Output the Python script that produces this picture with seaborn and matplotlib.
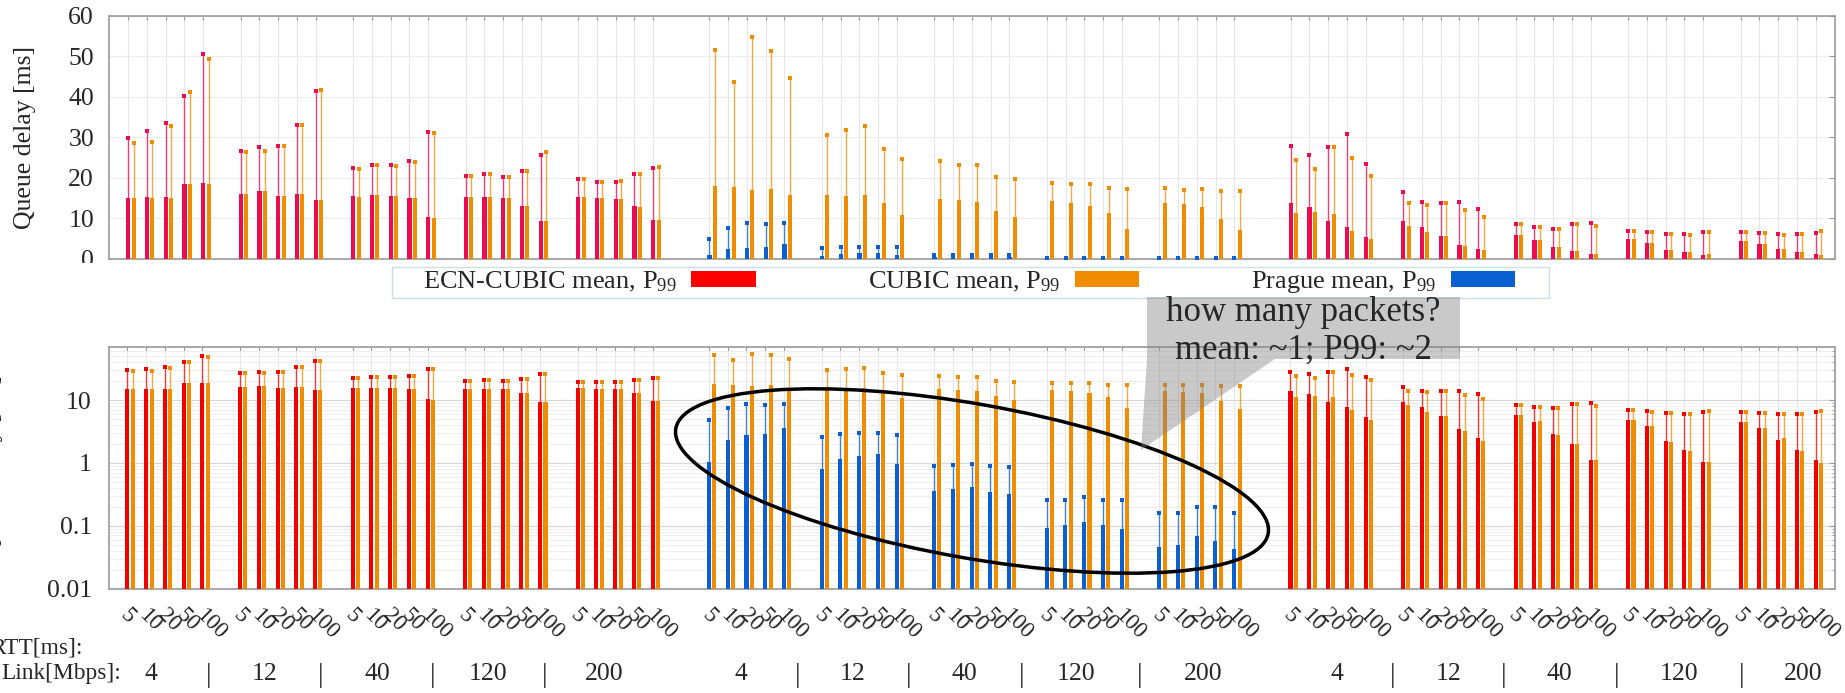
import numpy as np
import matplotlib
matplotlib.use("Agg")
import matplotlib.pyplot as plt
import seaborn as sns
from matplotlib.patches import Ellipse, Rectangle, Polygon, Patch
from matplotlib.transforms import ScaledTranslation, blended_transform_factory
from matplotlib.ticker import FixedLocator, FixedFormatter, LogLocator, NullFormatter

# ---------------- data ----------------
LINKS = ["4", "12", "40", "120", "200"]
RTTS = ["5", "10", "20", "50", "100"]

# left block: ECN-CUBIC vs CUBIC (link-major, 5 RTTs per link)
A_ecn_mean = [15.1, 15.25, 15.25, 18.4, 18.6,
              16.1, 16.7, 15.5, 16.1, 14.6,
              15.4, 15.75, 15.5, 14.9, 10.3,
              15.25, 15.25, 14.9, 13.1, 9.4,
              15.3, 15.0, 14.75, 13.1, 9.5]
A_ecn_p99 = [29.9, 31.6, 33.55, 40.1, 50.7,
             26.6, 27.5, 27.8, 33.1, 41.5,
             22.3, 23.25, 23.1, 24.2, 31.2,
             20.4, 21.0, 20.1, 21.8, 25.6,
             19.7, 19.05, 19.05, 21.0, 22.4]
A_cubic_mean = [15.1, 15.1, 15.1, 18.5, 18.55,
                16.1, 16.7, 15.5, 16.1, 14.6,
                15.3, 15.7, 15.5, 14.9, 10.0,
                15.25, 15.25, 14.9, 13.0, 9.4,
                15.3, 15.0, 14.75, 12.9, 9.5]
A_cubic_p99 = [28.6, 28.9, 32.8, 41.1, 49.4,
               26.5, 26.7, 27.8, 33.1, 41.7,
               22.2, 23.25, 22.9, 24.0, 31.0,
               20.4, 21.0, 20.1, 21.8, 26.3,
               19.7, 19.05, 19.2, 20.9, 22.6]

# middle block: Prague vs CUBIC
B_prague_mean = [1.02, 2.3, 2.76, 2.86, 3.56,
                 0.79, 1.16, 1.29, 1.36, 0.96,
                 0.36, 0.39, 0.41, 0.35, 0.32,
                 0.091, 0.103, 0.115, 0.103, 0.087,
                 0.046, 0.050, 0.068, 0.057, 0.043]
B_prague_p99 = [4.84, 7.5, 8.8, 8.5, 8.8,
                2.62, 2.9, 3.0, 3.0, 2.8,
                0.885, 0.918, 0.95, 0.885, 0.85,
                0.258, 0.258, 0.29, 0.258, 0.258,
                0.162, 0.162, 0.195, 0.195, 0.162]
B_cubic_mean = [18.0, 17.7, 16.9, 17.2, 15.7,
                15.7, 15.4, 15.7, 13.7, 10.7,
                14.75, 14.6, 14.0, 11.8, 10.2,
                14.3, 13.85, 13.1, 11.2, 7.4,
                13.7, 13.5, 12.8, 9.8, 7.1]
B_cubic_p99 = [51.7, 43.8, 54.7, 51.4, 44.6,
               30.5, 31.7, 32.9, 27.0, 24.65,
               24.2, 23.25, 23.25, 20.1, 19.7,
               18.8, 18.4, 18.4, 17.5, 17.3,
               17.5, 17.1, 17.3, 16.65, 16.65]

# right block: ECN-CUBIC vs CUBIC
C_ecn_mean = [13.8, 12.7, 9.3, 7.75, 5.3,
              9.2, 7.75, 5.6, 3.5, 2.5,
              5.8, 4.5, 2.9, 2.0, 1.12,
              4.75, 3.85, 2.2, 1.6, 1.03,
              4.45, 3.6, 2.35, 1.62, 1.12]
C_ecn_p99 = [27.8, 25.6, 27.7, 30.9, 23.4,
             16.4, 14.0, 13.8, 13.9, 12.4,
             8.5, 7.75, 7.4, 8.6, 8.9,
             6.85, 6.7, 6.2, 6.0, 6.5,
             6.5, 6.25, 6.0, 6.0, 6.4]
C_cubic_mean = [11.4, 11.5, 11.05, 6.85, 4.9,
                8.2, 6.5, 5.5, 3.2, 2.2,
                5.85, 4.6, 2.8, 2.0, 1.12,
                4.8, 3.8, 2.15, 1.57, 1.05,
                4.45, 3.6, 2.45, 1.55, 0.98]
C_cubic_p99 = [24.5, 22.2, 27.7, 25.0, 20.5,
               13.7, 13.35, 13.7, 12.0, 10.3,
               8.5, 7.75, 7.4, 8.6, 8.0,
               6.85, 6.5, 6.2, 5.9, 6.6,
               6.5, 6.25, 5.95, 6.0, 6.75]

SERIES = [
    (0, 0, A_ecn_mean, A_ecn_p99, "ecn"),
    (0, 1, A_cubic_mean, A_cubic_p99, "cubic"),
    (1, 0, B_prague_mean, B_prague_p99, "prague"),
    (1, 1, B_cubic_mean, B_cubic_p99, "cubic"),
    (2, 0, C_ecn_mean, C_ecn_p99, "ecn"),
    (2, 1, C_cubic_mean, C_cubic_p99, "cubic"),
]

LEGEND_LABELS = ["ECN-CUBIC mean, P$_{99}$", "CUBIC mean, P$_{99}$", "Prague mean, P$_{99}$"]

# ---------------- layout / style ----------------
W, H, DPI = 1845, 693, 100
GROUP_START = [0, 31, 62]
PAIR_OFF = 0.285
BAR_W = 0.215
TOP_COLORS = {"ecn": "#ee0a4e", "cubic": "#f08c00", "prague": "#0a5fd2"}
BOT_COLORS = {"ecn": "#f20000", "cubic": "#f08c00", "prague": "#0a5fd2"}
LEG_COLORS = ["#ff0000", "#f08c00", "#0a5fd2"]
FRAME = "#9a9a9a"
FS = 18.5
TICK_FS = 16.5

# link-label x positions (slot units) for each block: numbers and separators
LINK_NUM_X = [[1.26, 7.29, 13.30, 19.24, 25.42],
              [32.68, 38.65, 44.61, 50.59, 57.32],
              [64.45, 70.44, 76.36, 82.72, 89.32]]
LINK_SEP_X = [[4.34, 10.28, 16.29, 22.26],
              [35.71, 41.63, 47.66, 53.96],
              [67.43, 73.39, 79.38, 86.05]]

sns.set_theme(style="white")
plt.rcParams["font.family"] = ["Liberation Serif", "DejaVu Serif"]
plt.rcParams["mathtext.fontset"] = "custom"
plt.rcParams["mathtext.rm"] = "Liberation Serif"
plt.rcParams["mathtext.it"] = "Liberation Serif:italic"
plt.rcParams["mathtext.bf"] = "Liberation Serif:bold"

fig = plt.figure(figsize=(W / DPI, H / DPI), dpi=DPI)
fig.patch.set_facecolor("white")


def rect(left, top, right, bottom):
    return [left / W, 1 - bottom / H, (right - left) / W, (bottom - top) / H]


def inch(x, y):
    return (x / DPI, (H - y) / DPI)


ax1 = fig.add_axes(rect(109.3, 16, 1834.5, 258.7))
ax2 = fig.add_axes(rect(108.5, 347, 1834.5, 588.5))


def slots(g):
    return np.array([GROUP_START[g] + 6 * l + r for l in range(5) for r in range(5)], float)


all_slots = np.concatenate([slots(g) for g in range(3)])

for ax, colors in [(ax1, TOP_COLORS), (ax2, BOT_COLORS)]:
    if ax is ax2:
        ax.set_yscale("log")
    for g, side, mean, p99, key in SERIES:
        pos = slots(g) + side * PAIR_OFF
        col = colors[key]
        sns.barplot(x=pos, y=np.array(mean), native_scale=True, orient="x",
                    width=BAR_W, color=col, saturation=1, linewidth=0,
                    errorbar=None, ax=ax, zorder=3)
        ax.vlines(pos, mean, p99, color=col, lw=1.0, alpha=0.75, zorder=3)
        ax.plot(pos, p99, "s", ms=3.1, color=col, mew=0, zorder=4)

    ax.set_xlim(-1.01, 91.0)
    ax.set_xticks(all_slots)
    ax.set_axisbelow(True)
    ax.grid(axis="x", which="major", color="#e6e6e6", lw=0.8)
    for s in ax.spines.values():
        s.set_color(FRAME)
        s.set_linewidth(1.2)
    ax.tick_params(axis="both", which="both", direction="in", color=FRAME,
                   top=True, right=True, labelsize=FS)
    ax.tick_params(axis="x", length=3, width=0.8)

# top panel
ax1.set_ylim(0, 60)
ax1.set_yticks(np.arange(0, 61, 10))
ax1.set_xticklabels([])
ax1.grid(axis="y", color="#ececec", lw=0.8)
ax1.tick_params(axis="y", length=4, width=0.8, pad=11)
ax1.set_xlabel("")
ax1.set_ylabel("")

# bottom panel (log)
ax2.set_ylim(0.01, 70)
ax2.yaxis.set_major_locator(FixedLocator([0.01, 0.1, 1, 10]))
ax2.yaxis.set_major_formatter(FixedFormatter(["0.01", "0.1", "1", "10"]))
ax2.yaxis.set_minor_locator(LogLocator(base=10, subs=np.arange(2, 10), numticks=20))
ax2.yaxis.set_minor_formatter(NullFormatter())
ax2.grid(axis="y", which="major", color="#d8d8d8", lw=0.9)
ax2.grid(axis="y", which="minor", color="#eeeeee", lw=0.7)
ax2.tick_params(axis="y", which="major", length=4, width=0.8, pad=12)
ax2.tick_params(axis="y", which="minor", length=2, width=0.6)
ax2.set_xlabel("")
ax2.set_ylabel("")
ax2.set_xticklabels(RTTS * 15, rotation=-45, rotation_mode="anchor",
                    ha="left", va="center", fontsize=TICK_FS)
ax2.tick_params(axis="x", pad=17.1)
shift = ScaledTranslation(-4.0 / DPI, 0, fig.dpi_scale_trans)
for lab in ax2.get_xticklabels():
    lab.set_transform(lab.get_transform() + shift)

# y labels (the lower one is mostly outside the canvas, as in the reference)
fig.text(24.7 / W, 1 - 137.3 / H, "Queue delay [ms]", rotation=90,
         ha="center", va="center", fontsize=FS)
fig.text(-8 / W, 1 - 467 / H, "Queue delay [ms]", rotation=90,
         ha="center", va="center", fontsize=FS)

# clip of top "0" label (as in reference)
fig.add_artist(Rectangle(inch(0, 300), 105 / DPI, 37 / DPI, transform=fig.dpi_scale_trans,
                         facecolor="white", edgecolor="none", zorder=10))

# x-axis descriptions
fig.text(83 / W, 1 - 648 / H, "RTT[ms]:", ha="right", va="center", fontsize=16.8)
fig.text(1 / W, 1 - 673.5 / H, "Link[Mbps]:", ha="left", va="center", fontsize=16.8)
btrans = blended_transform_factory(ax2.transData, fig.transFigure)
for g in range(3):
    for x, lab in zip(LINK_NUM_X[g], LINKS):
        ax2.text(x, 1 - 673.5 / H, lab, transform=btrans, ha="center", va="center",
                 fontsize=FS, clip_on=False)
    for x in LINK_SEP_X[g]:
        ax2.text(x, 1 - 675 / H, "|", transform=btrans, ha="center", va="center",
                 fontsize=FS + 2, clip_on=False)

# legend (frame drawn separately to match the reference padding)
fig.add_artist(Rectangle(inch(392, 297.7), (1548.6 - 392) / DPI, 31 / DPI,
                         transform=fig.dpi_scale_trans, facecolor="white",
                         edgecolor="#c9dfec", lw=1.0, zorder=5))
handles = [Patch(facecolor=c, edgecolor="none") for c in LEG_COLORS]
leg = fig.legend(handles, LEGEND_LABELS, loc="center left",
                 bbox_to_anchor=(423 / W, 1 - 282.2 / H), ncol=3, markerfirst=False,
                 frameon=False, fontsize=19, handlelength=2.45, handleheight=0.55,
                 handletextpad=0.55, columnspacing=4.25, borderpad=0.0, borderaxespad=0)
leg.set_zorder(6)

# annotation: ellipse + callout
fig.add_artist(Ellipse(inch(972, 481), 601.6 / DPI, 154 / DPI, angle=-10.05,
                       transform=fig.dpi_scale_trans, fill=False, edgecolor="black",
                       lw=2.5, zorder=15))
gray = (0.5, 0.5, 0.5, 0.42)
fig.add_artist(Rectangle(inch(1147, 359), 313 / DPI, 62 / DPI, transform=fig.dpi_scale_trans,
                         facecolor=gray, edgecolor="none", zorder=16))
fig.add_artist(Polygon([inch(1147, 359), inch(1275, 359), inch(1141, 450)],
                       closed=True, transform=fig.dpi_scale_trans,
                       facecolor=gray, edgecolor="none", zorder=16))
fig.text(1303.5 / W, 1 - 321 / H, "how many packets?", ha="center", va="baseline",
         fontsize=25, zorder=17)
fig.text(1303.5 / W, 1 - 358.5 / H, "mean: ~1; P99: ~2", ha="center", va="baseline",
         fontsize=25, zorder=17)

fig.savefig("out.png", dpi=DPI, facecolor="white")
